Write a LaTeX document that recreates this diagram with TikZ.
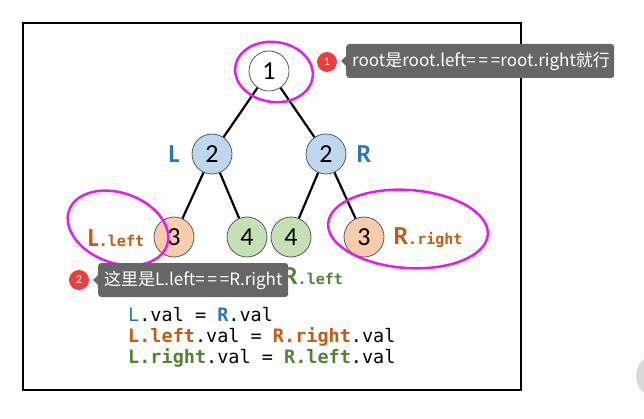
\documentclass[tikz,border=0pt]{standalone}
\usepackage{fontspec}
\setmainfont{Carlito}
\setmonofont{DejaVu Sans Mono}
\newfontfamily\cjk{Noto Sans CJK SC}
\usetikzlibrary{positioning}
\definecolor{lblue}{HTML}{BDD7EE}
\definecolor{lorange}{HTML}{F8CBAD}
\definecolor{lgreen}{HTML}{C5E0B4}
\definecolor{dblue}{HTML}{2E75B6}
\definecolor{dorange}{HTML}{C55A11}
\definecolor{dgreen}{HTML}{548235}
\definecolor{ring}{HTML}{E81CE8}
\definecolor{tipgray}{HTML}{666666}
\definecolor{badgered}{HTML}{F03C3C}
\tikzset{
  treenode/.style={circle,draw=black!65,thick,minimum size=40pt,inner sep=0pt,
    font=\fontsize{26}{26}\selectfont},
  edge/.style={line width=2.2pt},
  hilite/.style={draw=ring,line width=2.5pt},
  sidelabel/.style={font=\fontsize{26}{26}\selectfont\bfseries},
  tipbox/.style={fill=tipgray,rounded corners=3pt,text=white,anchor=west,
    minimum height=34pt,inner xsep=6pt,align=left,
    font=\cjk\fontsize{17}{17}\selectfont},
  badge/.style={circle,fill=badgered,text=white,minimum size=20pt,inner sep=0pt,
    font=\fontsize{12}{12}\selectfont},
  codeline/.style={anchor=base west,inner sep=0pt,font=\ttfamily\fontsize{18.5}{18.5}\selectfont}
}
\newcommand{\subtag}[2]{{\bfseries #1}{\ttfamily\bfseries\fontsize{15}{15}\selectfont #2}}

\begin{document}
\begin{tikzpicture}[x=1pt,y=-1pt]
  \useasboundingbox (0,0) rectangle (644,419);
  % frame and side button
  \fill[gray!30] (658,376) circle (22);
  \draw[line width=1.5pt] (23,23) rectangle (521,390);

  % tree
  \node[treenode,fill=white] (root) at (269,71) {1};
  \node[treenode,fill=lblue] (L) at (212,154) {2};
  \node[treenode,fill=lblue] (R) at (326,154) {2};
  \node[treenode,fill=lorange] (LL) at (174,237) {3};
  \node[treenode,fill=lgreen] (LR) at (247,237) {4};
  \node[treenode,fill=lgreen] (RL) at (291,237) {4};
  \node[treenode,fill=lorange] (RR) at (364,237) {3};
  \draw[edge] (root) -- (L);
  \draw[edge] (root) -- (R);
  \draw[edge] (L) -- (LL);
  \draw[edge] (L) -- (LR);
  \draw[edge] (R) -- (RL);
  \draw[edge] (R) -- (RR);

  % labels
  \node[sidelabel,text=dblue] (Ltag) at (174,154) {L};
  \node[sidelabel,text=dblue] (Rtag) at (364,154) {R};
  \node[text=dorange,font=\fontsize{26}{26}\selectfont] (LLtag) at (116,238) {\subtag{L}{.left}};
  \node[text=dorange,font=\fontsize{26}{26}\selectfont] (RRtag) at (428,238) {\subtag{R}{.right}};
  \node[text=dgreen,font=\fontsize{26}{26}\selectfont] (LRtag) at (229,276) {\subtag{L}{.right}};
  \node[text=dgreen,font=\fontsize{26}{26}\selectfont] (RLtag) at (313,276) {\subtag{R}{.left}};

  % code
  \node[codeline] (code1) at (128,321)
    {\textcolor{dblue}{L}.val = \textcolor{dblue}{\bfseries R}.val};
  \node[codeline] (code2) at (128,342)
    {\textcolor{dorange}{\bfseries L.left}.val = \textcolor{dorange}{\bfseries R.right}.val};
  \node[codeline] (code3) at (128,363)
    {\textcolor{dgreen}{\bfseries L.right}.val = \textcolor{dgreen}{\bfseries R.left}.val};

  % rings
  \draw[hilite,rotate around={-8:(274,72)}] (274,72) ellipse [x radius=39, y radius=30];
  \draw[hilite,rotate around={-20:(118,228)}] (118,228) ellipse [x radius=52, y radius=35];
  \draw[hilite,rotate around={-4:(408,229)}] (408,229) ellipse [x radius=80, y radius=39];

  % callouts
  \node[badge] (b1) at (327,62) {1};
  \node[tipbox,text width=256pt] (tip1) at (346,61) {root是root.left=\,=\,=root.right就行};
  \fill[tipgray] ([yshift=5pt]tip1.west) -- ([xshift=-5pt]tip1.west) -- ([yshift=-5pt]tip1.west) -- cycle;
  \node[badge] (b2) at (79,280) {2};
  \node[tipbox,text width=178pt] (tip2) at (98,280) {这里是L.left=\,=\,=R.right};
  \fill[tipgray] ([yshift=5pt]tip2.west) -- ([xshift=-5pt]tip2.west) -- ([yshift=-5pt]tip2.west) -- cycle;
\end{tikzpicture}
\end{document}
